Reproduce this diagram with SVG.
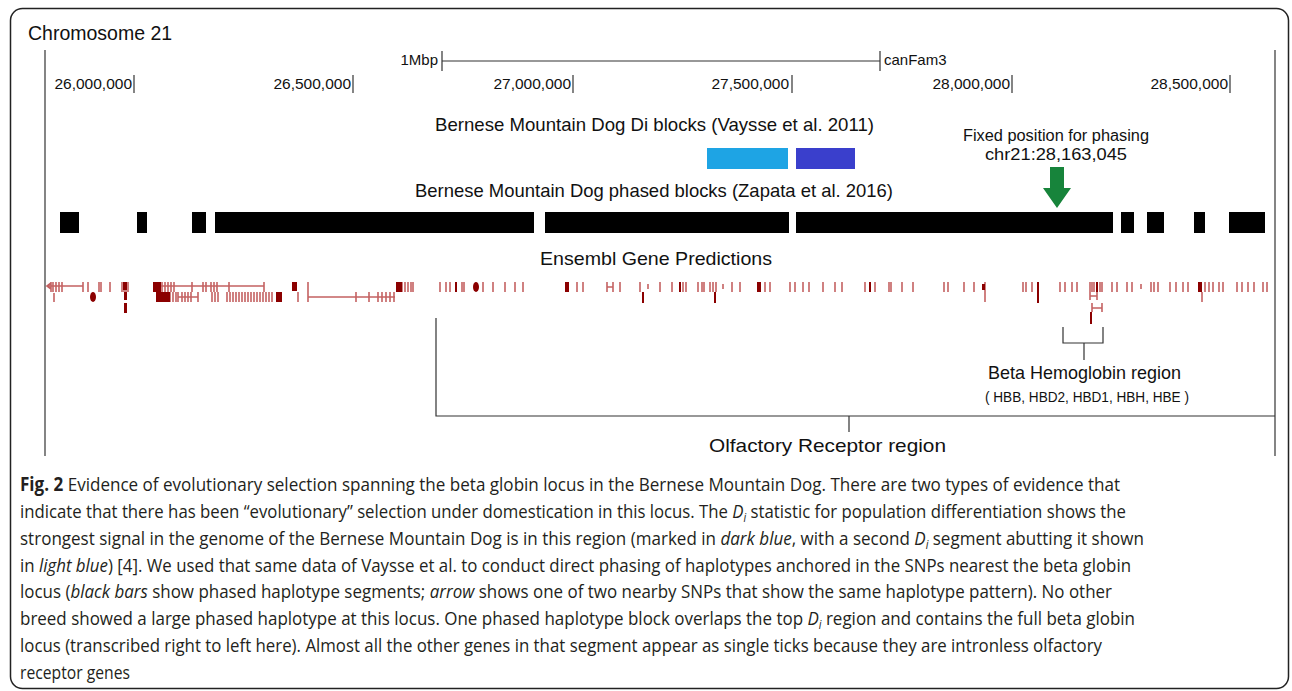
<svg xmlns="http://www.w3.org/2000/svg" width="1292" height="691" viewBox="0 0 1292 691">
<style>
.lbl{font-family:"Liberation Sans",Arial,sans-serif;fill:#111}
.ax{font-family:"Liberation Sans",Arial,sans-serif;font-size:15.5px;fill:#111;text-anchor:end}
.ln{stroke:#333;stroke-width:1.2;fill:none}
.lt{stroke:#a00000;stroke-opacity:.62;stroke-width:1.6;fill:none}
.dk{stroke:#8b0000;stroke-width:2;fill:none}
.bl{fill:#8b0000}
.cap{font-family:"Open Sans","Noto Sans",sans-serif;font-size:19px;fill:#231f20}
.sub{font-style:italic;font-size:12px}
.blk{fill:#000}
</style>
<rect x="10.5" y="8.5" width="1278" height="680" rx="12" fill="#fff" stroke="#222" stroke-width="1.5"/>

<g id="axis">
<text class="lbl" x="28" y="40" font-size="19.5">Chromosome 21</text>
<line class="ln" x1="45" y1="50" x2="45" y2="456"/>
<line class="ln" x1="1275" y1="50" x2="1275" y2="456"/>
<text class="lbl" x="438" y="65" font-size="15" text-anchor="end">1Mbp</text>
<line class="ln" x1="442" y1="61" x2="880" y2="61"/>
<line class="ln" x1="442" y1="51" x2="442" y2="71"/>
<line class="ln" x1="880" y1="51" x2="880" y2="71"/>
<text class="lbl" x="884" y="65" font-size="15">canFam3</text>
<text class="ax" x="132" y="89">26,000,000</text>
<line class="ln" x1="134" y1="75" x2="134" y2="93"/>
<text class="ax" x="351" y="89">26,500,000</text>
<line class="ln" x1="353" y1="75" x2="353" y2="93"/>
<text class="ax" x="571" y="89">27,000,000</text>
<line class="ln" x1="573" y1="75" x2="573" y2="93"/>
<text class="ax" x="789" y="89">27,500,000</text>
<line class="ln" x1="792" y1="75" x2="792" y2="93"/>
<text class="ax" x="1010" y="89">28,000,000</text>
<line class="ln" x1="1012" y1="75" x2="1012" y2="93"/>
<text class="ax" x="1228" y="89">28,500,000</text>
<line class="ln" x1="1230" y1="75" x2="1230" y2="93"/>
</g>

<g id="di-blocks">
<text class="lbl" x="435" y="131" font-size="18.5" textLength="439" lengthAdjust="spacingAndGlyphs">Bernese Mountain Dog Di blocks (Vaysse et al. 2011)</text>
<rect x="707" y="148" width="81" height="21" fill="#1ea4e4"/>
<rect x="796" y="148" width="59" height="21" fill="#3a3fcc"/>
</g>

<g id="fixed-position">
<text class="lbl" x="963" y="141" font-size="16" textLength="186" lengthAdjust="spacingAndGlyphs">Fixed position for phasing</text>
<text class="lbl" x="985" y="160" font-size="16" textLength="142" lengthAdjust="spacingAndGlyphs">chr21:28,163,045</text>
<polygon points="1050,167 1064,167 1064,188 1071,188 1057,208 1043,188 1050,188" fill="#17843b"/>
</g>

<g id="phased-blocks">
<text class="lbl" x="415" y="197" font-size="18.5" textLength="478" lengthAdjust="spacingAndGlyphs">Bernese Mountain Dog phased blocks (Zapata et al. 2016)</text>
<rect class="blk" x="60" y="212" width="19" height="21"/>
<rect class="blk" x="137" y="212" width="10" height="21"/>
<rect class="blk" x="192" y="212" width="14" height="21"/>
<rect class="blk" x="215" y="212" width="319" height="21"/>
<rect class="blk" x="545" y="212" width="244" height="21"/>
<rect class="blk" x="796" y="212" width="317" height="21"/>
<rect class="blk" x="1121" y="212" width="13" height="21"/>
<rect class="blk" x="1147" y="212" width="17" height="21"/>
<rect class="blk" x="1194" y="212" width="11" height="21"/>
<rect class="blk" x="1229" y="212" width="36" height="21"/>
</g>

<g id="genes">
<text class="lbl" x="540" y="265" font-size="18.5" textLength="232" lengthAdjust="spacingAndGlyphs">Ensembl Gene Predictions</text>
<path class="lt" d="M51,283 L47,286 L51,289 M47,286 H83 M153,286 H264 M607,287 H613 M51,282v10 M53,282v10 M56,282v10 M59,282v10 M62,282v10 M83,282v10 M88,282v10 M99,282v10 M101,282v10 M110,282v10 M122,282v10 M124,282v10 M126,282v10 M128,282v10 M162,282v10 M165,282v10 M168,282v10 M171,282v10 M174,282v10 M192,282v10 M203,282v10 M206,282v10 M229,282v10 M264,282v10 M308,282v10 M440,282v10 M446,282v10 M450,282v10 M462,282v10 M464,282v10 M483,282v10 M493,282v10 M505,282v10 M515,282v10 M523,282v10 M577,282v10 M583,282v10 M607,282v10 M613,282v10 M620,282v10 M640,282v10 M660,282v10 M672,282v10 M683,282v10 M686,282v10 M698,282v10 M702,282v10 M704,282v10 M710,282v10 M713,282v10 M716,282v10 M732,282v10 M740,282v10 M765,282v10 M770,282v10 M790,282v10 M795,282v10 M803,282v10 M809,282v10 M823,282v10 M835,282v10 M842,282v10 M865,282v10 M875,282v10 M889,282v10 M891,282v10 M902,282v10 M913,282v10 M944,282v10 M948,282v10 M964,282v10 M974,282v10 M985,282v10 M1023,282v10 M1026,282v10 M1032,282v10 M1060,282v10 M1065,282v10 M1072,282v10 M1077,282v10 M1090,282v10 M1092,282v10 M1094,282v10 M1100,282v10 M1102,282v10 M1112,282v10 M1117,282v10 M1127,282v10 M1132,282v10 M1151,282v10 M1154,282v10 M1158,282v10 M1170,282v10 M1176,282v10 M1183,282v10 M1188,282v10 M1205,282v10 M1209,282v10 M1213,282v10 M1219,282v10 M1223,282v10 M1237,282v10 M1242,282v10 M1248,282v10 M1254,282v10 M1263,282v10 M1267,282v10 M648,284v5 M723,284v5 M1141,284v5 M398,282v10 M402,282v10 M405,282v10 M408,282v10 M411,282v10 M413,282v10 M211,282v10 M214,282v10 M217,282v10"/>
<path class="lt" d="M178,297 H198 M308,297 H395 M54,293v9 M167,292v10 M170,292v10 M173,292v10 M176,292v10 M178,292v10 M182,292v10 M185,292v10 M188,292v10 M191,292v10 M198,292v10 M212,292v10 M215,292v10 M218,292v10 M227,292v10 M230,292v10 M233,292v10 M236,292v10 M239,292v10 M242,292v10 M245,292v10 M248,292v10 M251,292v10 M254,292v10 M257,292v10 M260,292v10 M263,292v10 M266,292v10 M269,292v10 M272,292v10 M298,292v10 M308,292v10 M356,292v10 M369,292v10 M378,292v10 M382,292v10 M386,292v10 M390,292v10 M394,292v10 M985,292v10 M1202,292v10 M1090,292v8 M1097,292v8 M1090,296 H1097 M1092,303v9 M1102,303v9 M1092,308 H1102"/>
<path class="dk" d="M456,282v10 M680,282v10 M870,282v10 M1038,282v10 M1097,282v10 M643,292v11 M715,292v11 M1038,292v11 M1091,312v12"/>
<rect class="bl" x="153" y="282" width="8" height="10"/>
<rect class="bl" x="292" y="282" width="5" height="9"/>
<rect class="bl" x="396" y="282" width="6" height="10"/>
<ellipse class="bl" cx="476" cy="287" rx="3" ry="5"/>
<rect class="bl" x="565" y="282" width="4" height="10"/>
<rect class="bl" x="757" y="282" width="4" height="10"/>
<rect class="bl" x="982" y="284" width="3" height="6"/>
<rect class="bl" x="1198" y="282" width="4" height="10"/>
<rect class="bl" x="123" y="282" width="4" height="8"/>
<ellipse class="bl" cx="93" cy="297" rx="3" ry="5"/>
<rect class="bl" x="124" y="292" width="3" height="8"/>
<rect class="bl" x="124" y="303" width="3" height="10"/>
<rect class="bl" x="156" y="292" width="14" height="10"/>
<rect class="bl" x="276" y="292" width="6" height="10"/>
</g>

<g id="beta-hemoglobin">
<path class="ln" d="M1063,327 V343 H1103 V327 M1084,343 V360"/>
<text class="lbl" x="988" y="379" font-size="19" textLength="193" lengthAdjust="spacingAndGlyphs">Beta Hemoglobin region</text>
<text class="lbl" x="985" y="402" font-size="14" textLength="204" lengthAdjust="spacingAndGlyphs">( HBB, HBD2, HBD1, HBH, HBE )</text>
</g>

<g id="olfactory">
<path class="ln" d="M436,318 V416 H1275 M849,416 V432"/>
<text class="lbl" x="709" y="452" font-size="18.5" textLength="237" lengthAdjust="spacingAndGlyphs">Olfactory Receptor region</text>
</g>

<g id="caption">
<text class="cap" x="20" y="491" textLength="1100" lengthAdjust="spacingAndGlyphs"><tspan font-weight="bold">Fig. 2</tspan> Evidence of evolutionary selection spanning the beta globin locus in the Bernese Mountain Dog. There are two types of evidence that</text>
<text class="cap" x="20" y="518" textLength="1106" lengthAdjust="spacingAndGlyphs">indicate that there has been “evolutionary” selection under domestication in this locus. The <tspan font-style="italic">D</tspan><tspan class="sub" baseline-shift="-4">i</tspan> statistic for population differentiation shows the</text>
<text class="cap" x="20" y="545" textLength="1124" lengthAdjust="spacingAndGlyphs">strongest signal in the genome of the Bernese Mountain Dog is in this region (marked in <tspan font-style="italic">dark blue</tspan>, with a second <tspan font-style="italic">D</tspan><tspan class="sub" baseline-shift="-4">i</tspan> segment abutting it shown</text>
<text class="cap" x="20" y="572" textLength="1111" lengthAdjust="spacingAndGlyphs">in <tspan font-style="italic">light blue</tspan>) [4]. We used that same data of Vaysse et al. to conduct direct phasing of haplotypes anchored in the SNPs nearest the beta globin</text>
<text class="cap" x="20" y="598" textLength="1092" lengthAdjust="spacingAndGlyphs">locus (<tspan font-style="italic">black bars</tspan> show phased haplotype segments; <tspan font-style="italic">arrow</tspan> shows one of two nearby SNPs that show the same haplotype pattern). No other</text>
<text class="cap" x="20" y="625" textLength="1115" lengthAdjust="spacingAndGlyphs">breed showed a large phased haplotype at this locus. One phased haplotype block overlaps the top <tspan font-style="italic">D</tspan><tspan class="sub" baseline-shift="-4">i</tspan> region and contains the full beta globin</text>
<text class="cap" x="20" y="652" textLength="1082" lengthAdjust="spacingAndGlyphs">locus (transcribed right to left here). Almost all the other genes in that segment appear as single ticks because they are intronless olfactory</text>
<text class="cap" x="20" y="679" textLength="110" lengthAdjust="spacingAndGlyphs">receptor genes</text>
</g>
</svg>
